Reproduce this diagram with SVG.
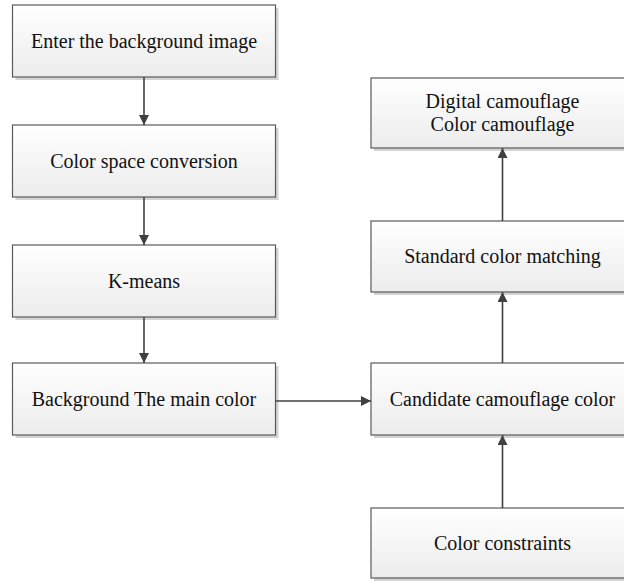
<svg xmlns="http://www.w3.org/2000/svg" width="624" height="581" viewBox="0 0 624 581">
  <defs>
    <linearGradient id="boxfill" x1="0" y1="0" x2="0" y2="1">
      <stop offset="0" stop-color="#ffffff"/>
      <stop offset="1" stop-color="#ececec"/>
    </linearGradient>
    <marker id="arrow" viewBox="0 0 10 10" refX="10" refY="5" markerWidth="10" markerHeight="10" markerUnits="userSpaceOnUse" orient="auto">
      <path d="M0,0 L10,5 L0,10 Z" fill="#404040"/>
    </marker>
  </defs>
  <style>
    .shadow { fill: #d4d4d4; }
    .box { fill: url(#boxfill); stroke: #5a5a5a; stroke-width: 1.2; }
    .label { font-family: "Liberation Serif", "Times New Roman", serif; font-size: 20px; fill: #111111; text-anchor: middle; }
    .conn { stroke: #404040; stroke-width: 1.6; fill: none; marker-end: url(#arrow); }
  </style>
  <rect width="624" height="581" fill="#ffffff"/>

  <g id="node-enter">
    <rect class="shadow" x="15.5" y="8" width="263" height="72"/>
    <rect class="box" x="12.5" y="5" width="263" height="72"/>
    <text class="label" x="144" y="48">Enter the background image</text>
  </g>
  <g id="node-colorspace">
    <rect class="shadow" x="15.5" y="128" width="263" height="72"/>
    <rect class="box" x="12.5" y="125" width="263" height="72"/>
    <text class="label" x="144" y="168">Color space conversion</text>
  </g>
  <g id="node-kmeans">
    <rect class="shadow" x="15.5" y="248" width="263" height="72"/>
    <rect class="box" x="12.5" y="245" width="263" height="72"/>
    <text class="label" x="144" y="288">K-means</text>
  </g>
  <g id="node-background">
    <rect class="shadow" x="15.5" y="366" width="263" height="72"/>
    <rect class="box" x="12.5" y="363" width="263" height="72"/>
    <text class="label" x="144" y="406">Background The main color</text>
  </g>

  <g id="node-digital">
    <rect class="shadow" x="374" y="81" width="263" height="70"/>
    <rect class="box" x="371" y="78" width="263" height="70"/>
    <text class="label" x="502.5" y="108">Digital camouflage</text>
    <text class="label" x="502.5" y="131">Color camouflage</text>
  </g>
  <g id="node-standard">
    <rect class="shadow" x="374" y="224" width="263" height="71"/>
    <rect class="box" x="371" y="221" width="263" height="71"/>
    <text class="label" x="502.5" y="263">Standard color matching</text>
  </g>
  <g id="node-candidate">
    <rect class="shadow" x="374" y="366" width="263" height="72"/>
    <rect class="box" x="371" y="363" width="263" height="72"/>
    <text class="label" x="502.5" y="406">Candidate camouflage color</text>
  </g>
  <g id="node-constraints">
    <rect class="shadow" x="374" y="511" width="263" height="70"/>
    <rect class="box" x="371" y="508" width="263" height="70"/>
    <text class="label" x="502.5" y="550">Color constraints</text>
  </g>

  <g id="connectors">
    <line class="conn" x1="144" y1="77" x2="144" y2="125"/>
    <line class="conn" x1="144" y1="197" x2="144" y2="245"/>
    <line class="conn" x1="144" y1="317" x2="144" y2="363"/>
    <line class="conn" x1="275.5" y1="401" x2="371" y2="401"/>
    <line class="conn" x1="502.5" y1="508" x2="502.5" y2="435"/>
    <line class="conn" x1="502.5" y1="363" x2="502.5" y2="292"/>
    <line class="conn" x1="502.5" y1="221" x2="502.5" y2="148"/>
  </g>
</svg>
